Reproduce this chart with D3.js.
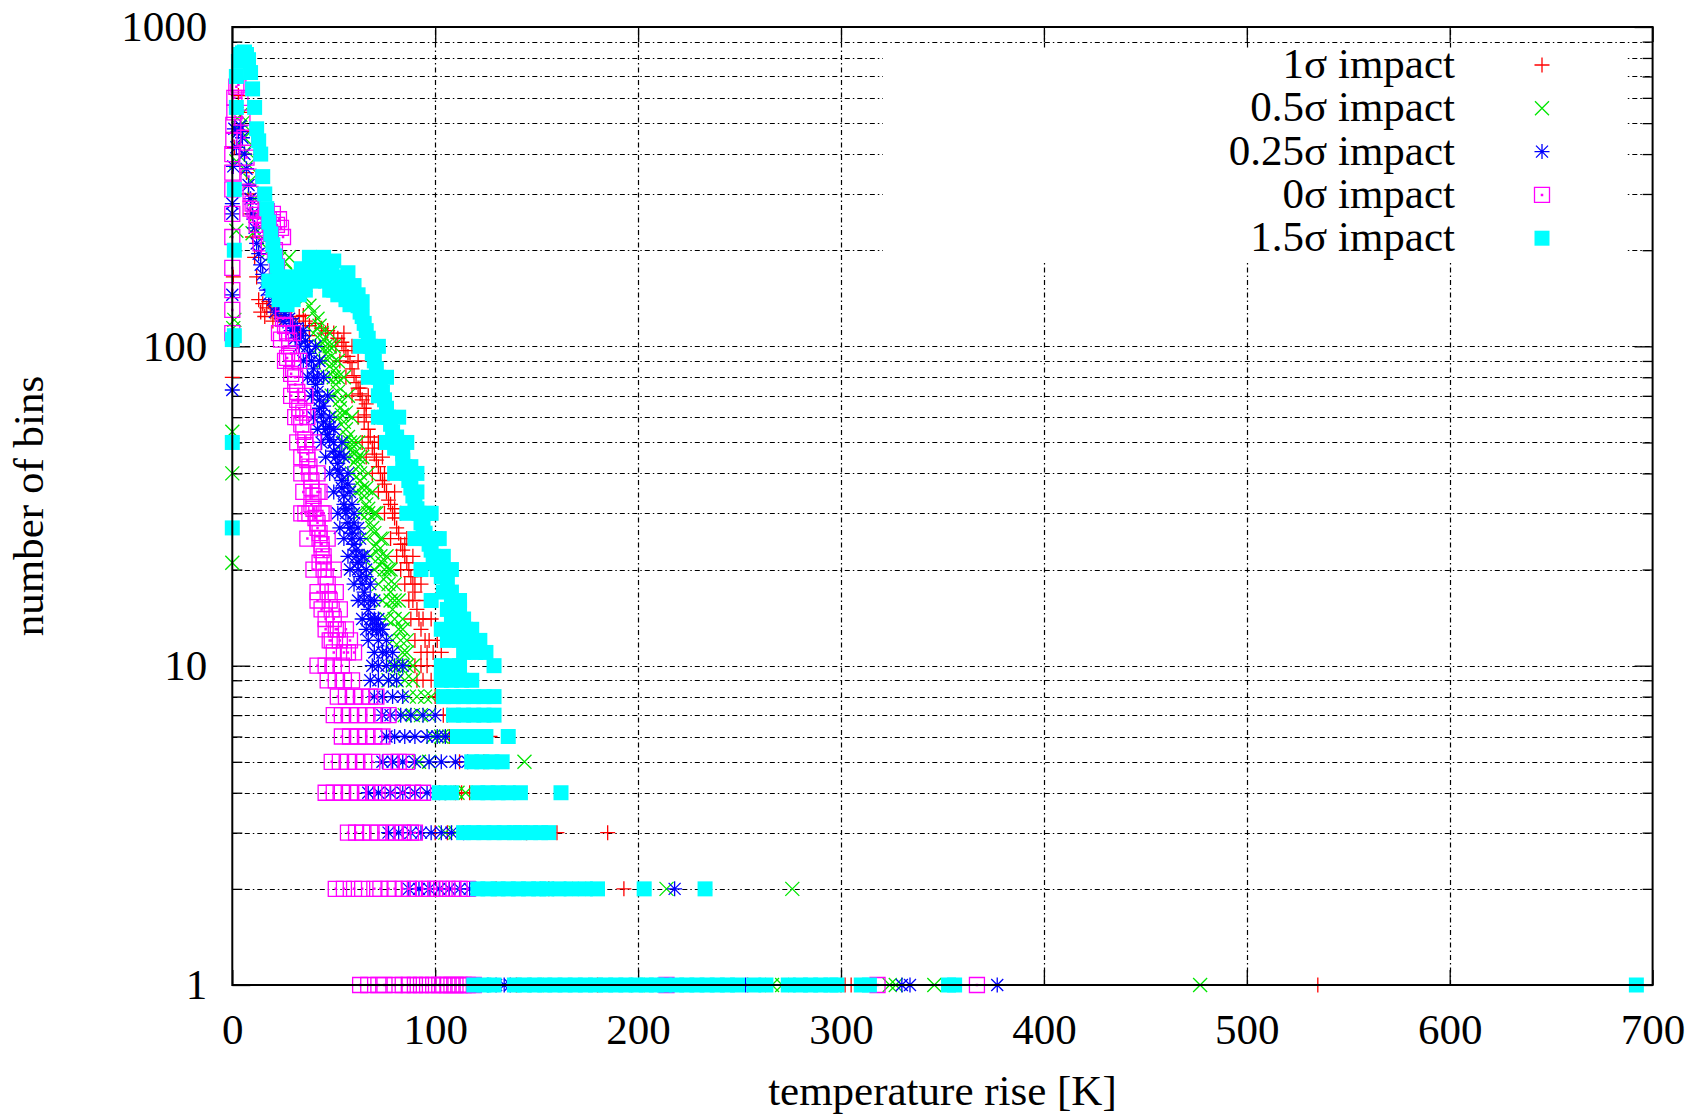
<!DOCTYPE html>
<html>
<head>
<meta charset="utf-8">
<script src="https://cdn.jsdelivr.net/npm/d3@7"></script>
<style>
  body { margin: 0; background: #fff; }
  text { font-family: "Liberation Serif", "Times New Roman", serif; fill: #000; }
</style>
</head>
<body>
<div id="chart"></div>
<script>
/* CONSTANTS AND GLOBALS */
const width = 1694,
  height = 1117,
  margin = { top: 27, bottom: 132, left: 232.3, right: 41.4 };

/* DATA */
const xTicks = [0, 100, 200, 300, 400, 500, 600, 700];
const yTicks = [1, 10, 100, 1000];
const seriesLabels = ["1σ impact", "0.5σ impact", "0.25σ impact", "0σ impact", "1.5σ impact"];
const seriesColors = ["#ff0000", "#00e600", "#0000ff", "#ff00ff", "#00ffff"];
const seriesShapes = ["plus", "cross", "star", "box", "boxFilled"];

// [temperature rise, number of bins]
const impact1 = [
  [0,80],[0.5,165],[1,420],[2,560],[3,610],[4,540],[5,470],[6,400],[7,350],[8,300],[9,260],[10,220],[11,190],[12,165],[13,140],
  [15,136],[17,132],[19,128],[21,134],[23,125],[26,128],[29,122],[31,118],[33,124],[36,120],[38,116],[41,118],[44,114],[47,112],
  [50,110],[52,106],[54,103],[55,100],[56,97],[57,93],[58,89],[59,85],[60,81],[61,77],[62,74],[63,71],[64,68],[65,64],[66,61],
  [65,58],[67,55],[68,52],[67,50],[69,48],[70,46],[71,44],[72,42],[73,40],[74,38],[75,37],[76,35],[77,33],[78,32],[79,30],[80,29],
  [81,27],[82,26],[83,24],[84,23],[85,22],[86,21],[87,20],[88,19],[89,18],[90,17],[89,16],[91,15],[92,14],[93,13],[95,12],[97,12],
  [96,11],[99,11],[63,74],[66,66],[70,50],[75,40],[80,31],[85,24],[90,19],[94,14],
  [14,128],[16,124],[18,138],[20,120],[22,130],[24,122],[30,112],[33,110],[35,125],[38,108],
  [46,110],[51,100],[53,90],[56,80],[59,70],[62,60],[64,50],[66,45],[69,40],[72,35],[75,30],[78,25],[81,22],[83,20],[85,18],
  [87,16],[88,14],[90,12],[93,11],[55,110],[59,100],[62,90],[64,80],[67,70],[70,60],[72,50],[74,45],[77,40],[80,35],[83,30],
  [86,25],[89,22],[91,20],[93,18],[95,16],[98,14],[101,12],[103,11],
  [90,10],[93,10],[96,10],[100,10],[103,10],[91,9],[94,9],[98,9],[100,8],[102,8],[104,7],[106,7],[107,6],[109,6],[127,6],
  [112,5],[124,5],[105,4],[110,4],[113,4],[117,4],[100,3],[106,3],[145,3],[160,3],[185,3],[118,2],[130,2],[156,2],[193,2],
  [140,1],[180,1],[254,1],[300,1],[302,1],[305,1],[535,1]
];
const impact05 = [
  [0,21],[0,40],[0,54],[0.5,114],[1,121],[2,230],[2,380],[3,480],[4,530],[5,500],[6,450],[7,410],[8,370],[9,330],[10,226],
  [11,290],[12,260],[14,235],[16,215],[18,200],[20,195],[23,188],[26,184],[28,190],[30,172],[32,160],[34,150],[36,142],[38,134],
  [40,128],[42,122],[43,116],[44,110],[45,105],[46,100],[47,96],[48,92],[49,88],[50,84],[50,80],[51,76],[52,72],[53,68],[53,64],
  [54,61],[55,58],[56,55],[57,52],[58,50],[59,48],[60,46],[61,44],[62,42],[63,40],[63,38],[64,36],[65,34],[66,32],[67,31],[67,30],
  [68,28],[69,27],[70,26],[71,24],[72,23],[73,22],[74,21],[75,20],[76,19],[77,18],[78,17],[78,16],[79,15],[80,14],[82,13],[83,12],
  [84,11],[86,11],[48,100],[52,80],[56,62],[60,50],[62,45],[66,36],[70,30],[73,25],[77,20],[80,16],[84,13],
  [40,110],[43,100],[45,90],[47,80],[49,70],[51,60],[55,50],[57,45],[59,40],[61,35],[63,30],[66,25],[68,22],[70,20],[72,18],
  [74,16],[76,14],[79,12],[48,110],[50,100],[52,90],[55,80],[57,70],[59,60],[62,50],[64,45],[67,40],[69,35],[71,30],[74,25],
  [76,22],[78,20],[80,18],[82,16],[84,14],[86,12],
  [79,10],[82,10],[86,10],[89,10],[77,9],[81,9],[85,9],[89,9],[87,8],[91,8],[95,8],[98,8],[85,7],[89,7],[93,7],[97,7],
  [99,6],[103,6],[107,6],[110,6],[92,5],[97,5],[144,5],[106,4],[111,4],[115,4],[105,3],[110,3],[143,3],
  [155,2],[171,2],[214,2],[276,2],[150,1],[200,1],[266,1],[271,1],[324,1],[327,1],[346,1],[477,1]
];
const impact025 = [
  [0,73],[0,145],[0,260],[0,280],[0.5,366],[1,480],[2,420],[3,470],[4,490],[5,450],[6,400],[7,360],[8,320],[9,290],[10,260],
  [11,235],[12,210],[13,195],[14,180],[15,168],[16,158],[17,150],[18,145],[20,140],[22,135],[24,130],[26,126],[28,122],[30,118],
  [32,114],[34,108],[36,104],[37,100],[38,95],[39,90],[40,85],[40,80],[41,76],[42,72],[43,68],[43,64],[44,61],[45,58],[46,55],
  [47,53],[48,51],[50,50],[50,47],[51,45],[52,43],[52,41],[53,40],[54,38],[54,36],[55,34],[55,32],[56,31],[56,30],[57,28],[58,27],
  [59,26],[59,25],[60,24],[61,23],[61,22],[62,21],[62,20],[63,19],[64,18],[65,17],[65,16],[67,15],[68,14],[69,13],[71,13],[72,12],
  [74,11],[76,11],[35,112],[42,80],[45,65],[48,56],[53,46],[57,37],[59,32],[60,28],[64,22],[66,19],[68,16],[70,14],[73,13],
  [21,128],[25,120],[29,112],[31,106],
  [33,100],[35,90],[37,80],[39,70],[40,60],[42,55],[44,50],[46,45],[48,40],[50,35],[52,30],[53,27],[55,25],[57,22],[58,20],
  [60,18],[62,16],[64,14],[66,13],[67,12],[70,11],[41,100],[43,90],[45,80],[47,70],[48,60],[50,55],[54,50],[55,45],[57,40],
  [58,35],[60,30],[62,27],[63,25],[65,22],[66,20],[68,18],[70,16],[72,14],[74,13],[76,12],[79,11],
  [69,10],[72,10],[76,10],[80,10],[84,10],[68,9],[72,9],[77,9],[81,9],[70,8],[74,8],[79,8],[84,8],
  [74,7],[78,7],[83,7],[88,7],[94,7],[100,7],[76,6],[80,6],[85,6],[90,6],[96,6],[101,6],[105,6],
  [74,5],[79,5],[84,5],[90,5],[97,5],[103,5],[110,5],[116,5],[67,4],[72,4],[78,4],[84,4],[90,4],[96,4],[102,4],
  [77,3],[82,3],[88,3],[93,3],[98,3],[103,3],[108,3],[114,3],[87,2],[92,2],[97,2],[102,2],[107,2],[112,2],[117,2],[120,2],[218,2],
  [122,1],[126,1],[130,1],[134,1],[137,1],[253,1],[330,1],[334,1],[377,1]
];
const impact0 = [
  [0,110],[0,176],[0,220],[0,310],[0,400],[0.5,494],[1,600],[2,650],[3,660],[4,600],[5,520],[6,450],[7,390],[8,340],[9,300],
  [10,280],[11,265],[12,258],[14,252],[16,248],[18,250],[20,245],[22,240],[24,235],[19,225],[21,200],[22,178],[23,160],[24,145],
  [25,130],[25,122],[26,116],[27,110],[28,104],[28,100],[29,95],[30,90],[30,85],[31,80],[31,76],[32,72],[32,68],[33,64],[33,60],
  [34,57],[35,54],[36,51],[36,49],[37,46],[37,44],[38,42],[38,40],[39,38],[39,36],[40,34],[39,32],[40,31],[38,30],[41,29],[42,28],
  [42,27],[43,26],[43,25],[44,24],[44,23],[45,22],[45,21],[45,20],[46,19],[47,18],[47,17],[48,16],[49,15],[50,14],[51,13],[52,13],
  [53,12],[55,11],[57,11],[24,105],[27,92],[29,82],[35,62],[34,45],[42,35],[36,30],[44,30],[43,21],[42,16],[46,14],[49,12],
  [9,270],[12,240],[15,230],[17,265],[20,260],[23,250],[25,220],[14,210],[18,205],
  [0,130],[0,150],[0,260],[0,350],[0.5,440],[1,540],
  [23,110],[26,90],[29,70],[31,60],[32,50],[34,40],[35,35],[34,30],[37,25],[40,20],[42,17],[44,15],[46,13],[48,12],[50,11],
  [30,110],[33,90],[36,70],[37,60],[40,50],[42,40],[43,35],[45,30],[47,25],[50,20],[51,17],[53,15],[56,13],[58,12],[60,11],
  [42,10],[46,10],[50,10],[54,10],[47,9],[51,9],[55,9],[59,9],[52,8],[56,8],[60,8],[64,8],[68,8],[71,8],
  [50,7],[54,7],[58,7],[62,7],[66,7],[70,7],[74,7],[77,7],[54,6],[58,6],[62,6],[66,6],[70,6],[74,6],
  [49,5],[53,5],[57,5],[61,5],[65,5],[69,5],[78,5],[82,5],[86,5],
  [46,4],[50,4],[54,4],[58,4],[62,4],[66,4],[70,4],[74,4],[79,4],[84,4],[89,4],[94,4],
  [57,3],[61,3],[64,3],[68,3],[72,3],[76,3],[80,3],[84,3],[88,3],[90,3],
  [51,2],[55,2],[60,2],[64,2],[70,2],[73,2],[77,2],[80,2],[84,2],[87,2],[90,2],[94,2],[97,2],[100,2],[103,2],[106,2],[109,2],[112,2],[116,2],
  [63,1],[67,1],[72,1],[75,1],[80,1],[84,1],[87,1],[90,1],[93,1],[96,1],[99,1],[102,1],[104,1],[106,1],[108,1],[110,1],[112,1],
  [114,1],[116,1],[119,1],[214,1],[318,1],[367,1]
];
const impact15 = [
  [0,27],[0,50],[0,105],[1,108],[1,200],[1,310],[2,560],[2,700],[3,780],[4,820],[5,830],[6,835],[7,820],[8,790],[9,720],[10,640],
  [11,560],[12,480],[13,440],[14,400],[15,340],[16,300],[17,270],[18,245],[19,225],[20,208],[21,192],[22,178],[23,165],[24,155],
  [25,150],[27,148],[29,152],[31,150],[33,158],[35,165],[37,172],[39,180],[41,185],[43,182],[45,180],[47,176],[49,170],[51,165],
  [53,160],[55,155],[57,170],[59,148],[60,142],[61,138],[62,134],[63,128],[64,124],[65,118],[66,112],[67,106],[68,100],[69,95],
  [70,90],[71,85],[72,80],[73,76],[74,72],[75,68],[76,64],[77,60],[78,57],[79,54],[81,52],[82,50],[83,48],[84,46],[84,44],[85,42],
  [86,40],[87,38],[88,36],[89,34],[90,33],[91,31],[92,30],[93,28],[94,27],[95,26],[96,25],[97,24],[98,23],[99,22],[100,21],[101,20],
  [103,19],[105,19],[106,18],[108,17],[104,17],[108,16],[110,16],[106,15],[112,15],[108,14],[114,14],[110,13],[115,13],[112,12],
  [117,12],[114,11],[120,11],[125,11],
  [20,150],[23,140],[27,135],[30,140],[33,145],[36,150],[40,160],[44,165],[48,150],[52,145],[56,140],[45,190],[38,190],[50,185],
  [72,70],[75,60],[80,48],[88,42],[91,35],[96,30],[100,25],[104,22],
  [18,160],[22,150],[26,160],[30,165],[34,175],[42,170],[46,160],[50,150],[54,148],[58,135],[60,155],[62,145],[64,138],
  [63,100],[67,80],[72,60],[76,50],[80,40],[86,30],[90,25],[93,20],[98,16],[103,13],[106,12],
  [72,100],[76,80],[82,60],[86,50],[91,40],[98,30],[102,25],[108,20],[112,16],[118,13],[122,12],
  [103,10],[108,10],[112,10],[129,10],[103,9],[108,9],[113,9],[118,9],[104,8],[109,8],[114,8],[119,8],[124,8],[129,8],
  [109,7],[114,7],[119,7],[124,7],[129,7],[111,6],[116,6],[121,6],[125,6],[136,6],[118,5],[123,5],[128,5],[133,5],
  [102,4],[108,4],[121,4],[126,4],[131,4],[136,4],[142,4],[162,4],
  [114,3],[119,3],[124,3],[129,3],[134,3],[139,3],[142,3],[147,3],[152,3],[156,3],
  [121,2],[126,2],[131,2],[136,2],[141,2],[146,2],[151,2],[155,2],[161,2],[167,2],[174,2],[180,2],[203,2],[233,2],
  [119,1],[124,1],[129,1],[139,1],[144,1],[149,1],[154,1],[159,1],[164,1],[169,1],[174,1],[179,1],[184,1],[189,1],[194,1],
  [199,1],[204,1],[209,1],[213,1],[219,1],[224,1],[229,1],[234,1],[239,1],[244,1],[249,1],[257,1],[263,1],[274,1],[280,1],
  [285,1],[290,1],[295,1],[298,1],[310,1],[314,1],[353,1],[356,1],[692,1]
];
const seriesData = [impact1, impact05, impact025, impact0, impact15];

/* SCALES */
const xScale = d3.scaleLinear()
  .domain(d3.extent(xTicks))
  .range([margin.left, width - margin.right]);

const yScale = d3.scaleLog()
  .domain(d3.extent(yTicks))
  .range([height - margin.bottom, margin.top]);

/* MARKER SHAPES */
const shapePath = {
  plus: "M-7.5,0H7.5M0,-7.5V7.5",
  cross: "M-7,-7L7,7M-7,7L7,-7",
  star: "M-7.5,0H7.5M0,-7.5V7.5M-6,-6L6,6M-6,6L6,-6",
  box: "M-7.5,-7.5H7.5V7.5H-7.5Z M-0.6,-0.6h1.2v1.2h-1.2Z",
  boxFilled: "M-7.5,-7.5H7.5V7.5H-7.5Z"
};

/* SVG */
const svg = d3.select("#chart")
  .append("svg")
  .attr("width", width)
  .attr("height", height)
  .style("background", "#fff");

// + GRID (every y tick of the log scale, major x ticks)
const grid = svg.append("g").attr("class", "grid")
  .attr("stroke", "#000")
  .attr("stroke-width", 1.2)
  .attr("stroke-dasharray", "5,3,1.5,3");

grid.selectAll(".hgrid")
  .data(yScale.ticks().filter(d => d > 1 && d < 1000))
  .join("line")
  .attr("class", "hgrid")
  .attr("x1", xScale(0)).attr("x2", xScale(700))
  .attr("y1", d => Math.round(yScale(d)) + 0.5)
  .attr("y2", d => Math.round(yScale(d)) + 0.5);

grid.selectAll(".vgrid")
  .data(xTicks.slice(1, -1))
  .join("line")
  .attr("class", "vgrid")
  .attr("x1", d => Math.round(xScale(d)) + 0.5)
  .attr("x2", d => Math.round(xScale(d)) + 0.5)
  .attr("y1", yScale(1)).attr("y2", yScale(1000));

// + LEGEND BACKGROUND (hides the grid behind the key)
const legendBox = { x: 883, y: 48, w: 742, h: 214 };
svg.append("rect")
  .attr("x", legendBox.x).attr("y", legendBox.y)
  .attr("width", legendBox.w).attr("height", legendBox.h)
  .attr("fill", "#fff");

// + AXES
const tickFont = 43;
const xAxis = d3.axisBottom(xScale).tickValues(xTicks).tickSize(-15).tickPadding(28);
const yAxis = d3.axisLeft(yScale).tickValues(yTicks).tickSize(-18).tickPadding(25).tickFormat(d3.format("d"));

svg.append("g")
  .attr("transform", `translate(0, ${yScale(1)})`)
  .call(xAxis);
svg.append("g")
  .attr("transform", `translate(${xScale(0)}, 0)`)
  .call(yAxis);

svg.append("g")
  .attr("transform", `translate(0, ${yScale(1000)})`)
  .call(d3.axisTop(xScale).tickValues(xTicks).tickSize(-15).tickFormat(""));
svg.append("g")
  .attr("transform", `translate(${xScale(700)}, 0)`)
  .call(d3.axisRight(yScale).tickValues(yTicks).tickSize(-18).tickFormat(""));

// minor y ticks on both sides
const minorY = yScale.ticks().filter(d => !yTicks.includes(d));
svg.append("g")
  .attr("transform", `translate(${xScale(0)}, 0)`)
  .call(d3.axisLeft(yScale).tickValues(minorY).tickSize(-10).tickFormat(""));
svg.append("g")
  .attr("transform", `translate(${xScale(700)}, 0)`)
  .call(d3.axisRight(yScale).tickValues(minorY).tickSize(-10).tickFormat(""));

svg.selectAll(".domain").remove();
svg.selectAll(".tick line").attr("stroke", "#000").attr("stroke-width", 1.3);
svg.selectAll(".tick text")
  .style("font-family", '"Liberation Serif", serif')
  .style("font-size", tickFont + "px")
  .attr("fill", "#000");

// + DATA POINTS (drawn in legend order, last one on top)
seriesData.forEach((data, i) => {
  const filled = seriesShapes[i] === "boxFilled";
  svg.append("g")
    .attr("class", "series")
    .selectAll("path")
    .data(data)
    .join("path")
    .attr("transform", d => `translate(${xScale(d[0])}, ${yScale(d[1])})`)
    .attr("d", shapePath[seriesShapes[i]])
    .attr("fill", filled ? seriesColors[i] : "none")
    .attr("stroke", filled ? "none" : seriesColors[i])
    .attr("stroke-width", 1.3);
});

// + BORDER
svg.append("rect")
  .attr("x", xScale(0)).attr("y", yScale(1000))
  .attr("width", xScale(700) - xScale(0))
  .attr("height", yScale(1) - yScale(1000))
  .attr("fill", "none")
  .attr("stroke", "#000")
  .attr("stroke-width", 2);

// + LEGEND
const legend = svg.append("g").attr("class", "legend");
const rowY = i => 65 + i * 43.3;
legend.selectAll("text")
  .data(seriesLabels)
  .join("text")
  .attr("x", 1455)
  .attr("y", (d, i) => rowY(i) + 13)
  .attr("text-anchor", "end")
  .style("font-size", tickFont + "px")
  .text(d => d);
legend.selectAll("path")
  .data(seriesLabels)
  .join("path")
  .attr("transform", (d, i) => `translate(1542, ${rowY(i)})`)
  .attr("d", (d, i) => shapePath[seriesShapes[i]])
  .attr("fill", (d, i) => seriesShapes[i] === "boxFilled" ? seriesColors[i] : "none")
  .attr("stroke", (d, i) => seriesShapes[i] === "boxFilled" ? "none" : seriesColors[i])
  .attr("stroke-width", 1.3);

// + AXIS TITLES
svg.append("text")
  .attr("x", (xScale(0) + xScale(700)) / 2)
  .attr("y", 1105)
  .attr("text-anchor", "middle")
  .style("font-size", tickFont + "px")
  .text("temperature rise [K]");

svg.append("text")
  .attr("transform", `translate(43, ${(yScale(1) + yScale(1000)) / 2}) rotate(-90)`)
  .attr("text-anchor", "middle")
  .style("font-size", tickFont + "px")
  .text("number of bins");
</script>
</body>
</html>
